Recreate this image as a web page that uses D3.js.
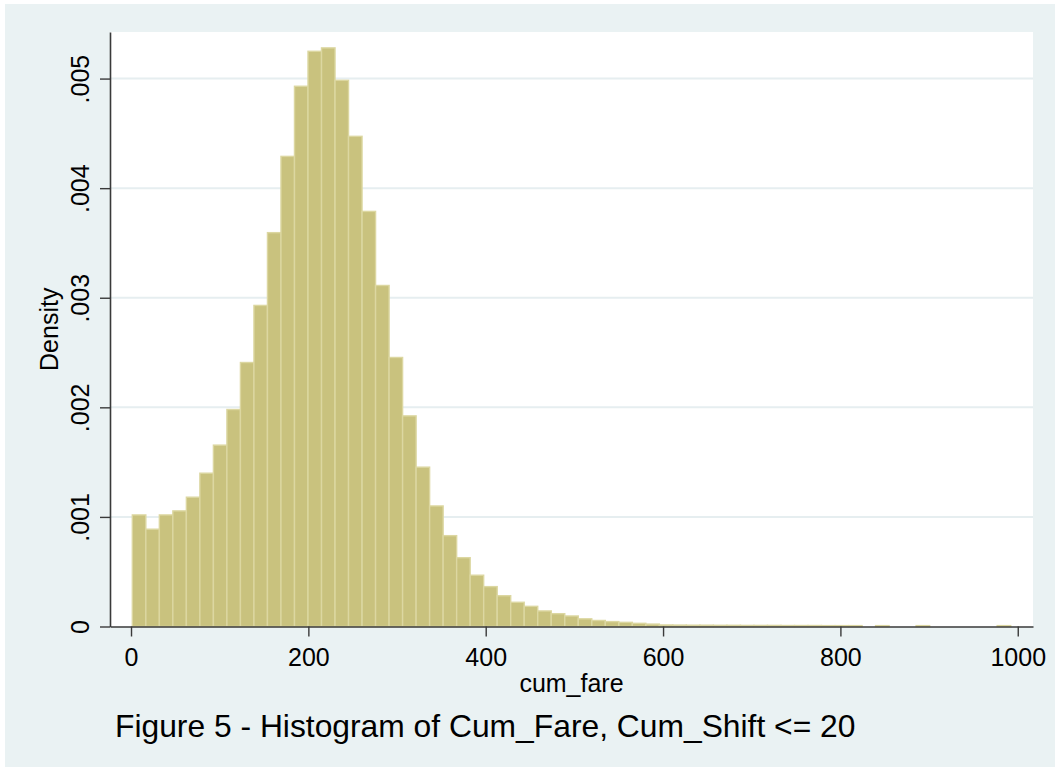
<!DOCTYPE html>
<html>
<head>
<meta charset="utf-8">
<script src="https://cdn.jsdelivr.net/npm/d3@7"></script>
<style>
  html, body { margin: 0; padding: 0; background: #ffffff; }
  svg { display: block; font-family: "Liberation Sans", Arial, sans-serif; }
</style>
</head>
<body>
<svg id="chart" width="1060" height="771"></svg>
<script>
// ---- data ----
const binStart = 1.47;      // left edge of first bin (cum_fare)
const binWidth = 15.24;     // width of each bin (cum_fare)
const densities = [
  0.001018, 0.000888, 0.001018, 0.001055, 0.001180, 0.001399, 0.001655, 0.001980,
  0.002409, 0.002930, 0.003594, 0.004290, 0.004930, 0.005249, 0.005280, 0.004984,
  0.004473, 0.003788, 0.003112, 0.002455, 0.001922, 0.001454, 0.001100, 0.000829,
  0.000628, 0.000468, 0.000364, 0.000281, 0.000221, 0.000184, 0.000142, 0.000117,
  0.000096, 0.000070, 0.000055, 0.000045, 0.000038, 0.000029, 0.000022, 0.000014,
  0.000013, 0.000012, 0.000012, 0.000011, 0.000011, 0.000010, 0.000010, 0.000010,
  0.000009, 0.000009, 0.000009, 0.000008, 0.000008, 0.000008, 0,        0.000008,
  0,        0,        0.000008, 0,        0,        0,        0,        0,
  0.000008
];
const xTicks = [0, 200, 400, 600, 800, 1000];
const yTicks = [0, 0.001, 0.002, 0.003, 0.004, 0.005];
const yTickLabels = ["0", ".001", ".002", ".003", ".004", ".005"];
const xTitle = "cum_fare";
const yTitle = "Density";
const caption = "Figure 5 - Histogram of Cum_Fare, Cum_Shift <= 20";

// ---- layout ----
const svg = d3.select("#chart");
const plot = { left: 110, right: 1033, top: 32, bottom: 626.5 };

svg.append("rect").attr("x", 5).attr("y", 4).attr("width", 1050).attr("height", 763)
  .attr("fill", "#eaf2f3");
svg.append("rect").attr("x", plot.left).attr("y", plot.top)
  .attr("width", plot.right - plot.left).attr("height", plot.bottom - plot.top)
  .attr("fill", "#ffffff");

const x = d3.scaleLinear().domain([-23.7, 1017.2]).range([plot.left, plot.right]);
const y = d3.scaleLinear().domain([0, 0.005425]).range([plot.bottom, plot.top]);

// gridlines
svg.append("g").selectAll("line")
  .data(yTicks.filter(d => d > 0))
  .join("line")
  .attr("x1", plot.left).attr("x2", plot.right)
  .attr("y1", d => y(d)).attr("y2", d => y(d))
  .attr("stroke", "#e6eef0").attr("stroke-width", 2);

// bars
const bins = densities.map((d, i) => ({ x0: binStart + i * binWidth, x1: binStart + (i + 1) * binWidth, d }))
  .filter(b => b.d > 0);
svg.append("g").selectAll("rect")
  .data(bins)
  .join("rect")
  .attr("x", b => x(b.x0))
  .attr("width", b => x(b.x1) - x(b.x0))
  .attr("y", b => y(b.d))
  .attr("height", b => y(0) - y(b.d))
  .attr("fill", "#c9c27e")
  .attr("stroke", "#dcd7a1")
  .attr("stroke-width", 1.4);

// y axis
const yAxis = svg.append("g")
  .attr("transform", `translate(${plot.left},0)`)
  .call(d3.axisLeft(y).tickValues(yTicks).tickFormat((d, i) => yTickLabels[i])
    .tickSize(10).tickSizeOuter(0));
yAxis.select(".domain").attr("stroke", "#3a3a3a").attr("stroke-width", 1.6);
yAxis.selectAll(".tick line").attr("stroke", "#3a3a3a").attr("stroke-width", 1.4);
yAxis.selectAll(".tick text")
  .attr("x", null).attr("dy", null)
  .attr("transform", "translate(-21,0) rotate(-90)")
  .attr("text-anchor", "middle")
  .attr("font-size", 25)
  .attr("font-family", "Liberation Sans, Arial, sans-serif")
  .attr("fill", "#000");

// x axis
const xAxis = svg.append("g")
  .attr("transform", `translate(0,${plot.bottom})`)
  .call(d3.axisBottom(x).tickValues(xTicks).tickFormat(d3.format("d"))
    .tickSize(10).tickSizeOuter(0).tickPadding(11.5));
xAxis.select(".domain").attr("stroke", "#3a3a3a").attr("stroke-width", 1.6);
xAxis.selectAll(".tick line").attr("stroke", "#3a3a3a").attr("stroke-width", 1.4);
xAxis.selectAll(".tick text")
  .attr("font-size", 25)
  .attr("font-family", "Liberation Sans, Arial, sans-serif")
  .attr("fill", "#000");

// axis titles
svg.append("text")
  .attr("x", (plot.left + plot.right) / 2).attr("y", 692)
  .attr("text-anchor", "middle").attr("font-size", 25).attr("fill", "#000")
  .text(xTitle);
svg.append("text")
  .attr("transform", `translate(58,${(plot.top + plot.bottom) / 2}) rotate(-90)`)
  .attr("text-anchor", "middle").attr("font-size", 25).attr("fill", "#000")
  .text(yTitle);

// caption
svg.append("text")
  .attr("x", 115).attr("y", 737)
  .attr("font-size", 31.8).attr("fill", "#000")
  .text(caption);
</script>
</body>
</html>
